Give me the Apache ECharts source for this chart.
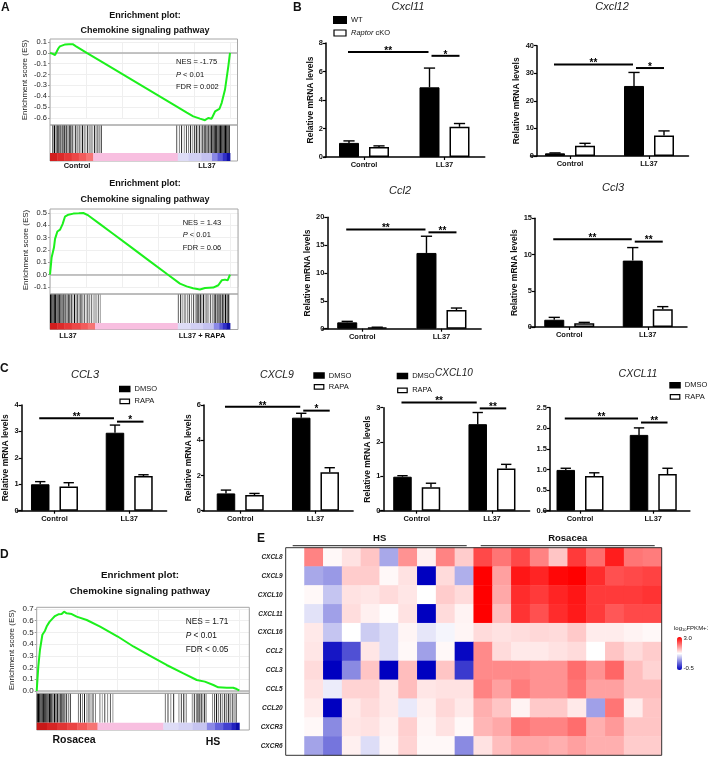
<!DOCTYPE html>
<html><head><meta charset="utf-8">
<script src="https://cdn.jsdelivr.net/npm/echarts@6/dist/echarts.min.js"></script>
<style>html,body{margin:0;padding:0;background:#fff}#c{width:708px;height:758px}</style>
</head><body><div id="c"></div>
<script>
// ================= DATA =================
// GSEA running enrichment score: [rank position (%), ES]
const esCurveA1 = [[0,0],[1.5,-0.01],[2.8,-0.02],[3.7,0.01],[4.6,0.04],[5.5,0.06],[6.5,0.075],[8.5,0.078],[10.5,0.08],[12.6,0.08],[14.5,0.06],[17,0.035],[20.4,0.0],[30,-0.095],[40,-0.194],[50,-0.292],[60,-0.391],[70,-0.49],[76,-0.55],[79.6,-0.585],[83.3,-0.606],[86.1,-0.62],[87.9,-0.6],[89.8,-0.606],[91.7,-0.54],[94.1,-0.517],[95.4,-0.46],[97.2,-0.34],[99.1,-0.12],[100,0]];
const esCurveA2 = [[0,0],[0.9,0.14],[2.2,0.22],[2.8,0.29],[4.1,0.35],[5.6,0.365],[7.0,0.41],[8.3,0.47],[10.2,0.486],[13,0.495],[16,0.497],[18.5,0.5],[21.3,0.48],[27.8,0.41],[35,0.332],[45,0.223],[55,0.114],[65,0.005],[72.2,-0.073],[75.9,-0.095],[79.5,-0.11],[83.3,-0.12],[86.1,-0.108],[90.7,-0.105],[93.5,-0.086],[95.4,-0.046],[97.2,-0.04],[98.7,-0.046],[100,0]];
const esCurveD = [[0,0],[0.8,0.21],[1.6,0.35],[2.8,0.48],[4.1,0.515],[4.9,0.55],[6.3,0.59],[7.9,0.62],[9.0,0.64],[10.7,0.655],[12.3,0.657],[13.5,0.677],[14.8,0.663],[17.3,0.657],[19.7,0.635],[24.7,0.606],[31.3,0.55],[40,0.465],[47.7,0.38],[56,0.3],[64.1,0.222],[72.4,0.15],[79,0.094],[83,0.08],[87.2,0.051],[89.6,0.031],[93.8,0.028],[97,0.028],[98.7,0.017],[100,0.005]];
// gene set hits: [rank position (%), grey shade 0=black]
const hitsA1 = [[1.6,0.1],[2.5,0],[3.3,0.5],[4.0,0],[4.8,0.3],[5.6,0],[6.5,0.6],[7.2,0],[8.1,0.2],[9.0,0],[9.9,0.55],[10.7,0.1],[11.6,0],[12.5,0.45],[13.3,0.7],[14.3,0.05],[15.2,0.6],[16.2,0.3],[17.1,0.7],[18.0,0],[19.0,0.5],[19.9,0.65],[20.9,0.2],[21.8,0.6],[22.8,0.4],[23.7,0.7],[24.7,0.15],[25.6,0.55],[26.6,0.3],[27.6,0.6],[28.5,0.2],[70.4,0.35],[71.9,0.55],[73.1,0.15],[74.6,0.6],[75.8,0.3],[77.0,0.5],[78.1,0.1],[79.3,0.6],[80.3,0.3],[81.3,0.05],[82.2,0.55],[83.1,0.2],[84.0,0.6],[84.9,0.1],[85.8,0.4],[86.6,0],[87.4,0.5],[88.2,0.1],[89.0,0.3],[89.8,0],[90.5,0.2],[91.2,0],[91.9,0.1],[92.6,0],[93.3,0.15],[94.0,0],[94.7,0],[95.4,0.05],[96.1,0],[96.8,0],[97.5,0],[98.2,0],[98.9,0],[99.6,0]];
const hitsA2 = [[0.3,0],[1.0,0],[1.7,0.1],[2.4,0],[3.1,0],[3.8,0.3],[4.5,0],[5.3,0.2],[6.1,0],[6.9,0.5],[7.7,0],[8.5,0.3],[9.3,0.6],[10.1,0],[10.9,0.4],[11.8,0.1],[12.7,0.6],[13.6,0],[14.5,0.5],[15.4,0.2],[16.3,0.65],[17.2,0],[18.2,0.6],[19.1,0.35],[20.1,0.7],[21.0,0.3],[22.0,0.6],[23.0,0.45],[24.0,0.7],[25.0,0.5],[26.0,0.65],[27.0,0.45],[28.0,0.7],[71.3,0.4],[72.6,0.1],[73.8,0.6],[75.0,0.3],[76.3,0.55],[77.4,0.2],[78.6,0.6],[79.7,0.35],[80.7,0.65],[81.7,0],[82.6,0.3],[83.5,0],[84.4,0.5],[85.3,0.1],[86.2,0.6],[87.2,0.3],[88.2,0.65],[89.2,0.4],[90.2,0.6],[91.2,0.2],[92.1,0],[93.0,0.4],[93.9,0],[94.8,0.3],[95.7,0],[96.6,0.2],[97.5,0],[98.4,0.1],[99.3,0]];
const hitsD = [[0.3,0],[0.9,0],[1.5,0],[2.1,0.1],[2.7,0],[3.3,0],[3.9,0.2],[4.5,0],[5.1,0],[5.7,0.3],[6.3,0],[6.9,0.1],[7.5,0],[8.1,0.4],[8.8,0],[9.5,0.2],[10.2,0],[10.9,0.5],[11.6,0],[12.3,0.3],[13.0,0],[13.8,0.45],[14.6,0.1],[15.6,0.5],[16.6,0.2],[20.6,0.5],[21.6,0.2],[22.6,0.6],[23.6,0.1],[24.8,0.5],[25.8,0.3],[26.8,0.6],[27.8,0.2],[29.0,0.55],[31.2,0.5],[32.4,0.7],[33.6,0.3],[35.0,0.6],[36.4,0.4],[37.6,0.65],[63.5,0.5],[64.8,0.3],[66.2,0.6],[67.6,0.2],[70.2,0.6],[71.4,0.3],[72.6,0.1],[73.8,0.5],[76.8,0.6],[77.8,0.2],[78.8,0.5],[79.6,0],[80.4,0.4],[81.2,0.1],[82.0,0.6],[82.8,0.2],[83.6,0.5],[86.8,0.6],[87.8,0.3],[88.8,0],[89.8,0.5],[90.8,0.2],[91.8,0.6],[92.8,0.1],[93.8,0.4],[94.8,0],[95.8,0.5],[96.8,0.2],[97.8,0.6],[98.5,0.3]];
// ranked-list colour bar: [from %, to %, colour]
const rankA1 = [[0,4,'#d21e1e'],[4,8,'#dc2a2a'],[8,12,'#e53838'],[12,16,'#ec4848'],[16,20,'#f25c5c'],[20,24,'#f67474'],[24,71,'#f8bfe0'],[71,77,'#dedcf6'],[77,84,'#d2d0f4'],[84,90,'#c4c2f0'],[90,93,'#8a88e6'],[93,96,'#5c5ad8'],[96,98,'#3230c8'],[98,100,'#1010a8']];
const rankA2 = [[0,4,'#d21e1e'],[4,8,'#dc2a2a'],[8,12,'#e53838'],[12,17,'#ec4848'],[17,21,'#f25c5c'],[21,25,'#f67474'],[25,71,'#f8bfe0'],[71,78,'#dedcf6'],[78,85,'#d2d0f4'],[85,91,'#c4c2f0'],[91,94,'#8a88e6'],[94,96,'#5c5ad8'],[96,98,'#3230c8'],[98,100,'#1010a8']];
const rankD = [[0,5,'#c81818'],[5,10,'#d62424'],[10,15,'#e03434'],[15,20,'#ea4444'],[20,25,'#f25a5a'],[25,30,'#f67474'],[30,62.5,'#f8bfe0'],[62.5,70,'#dedcf6'],[70,77,'#d4d2f4'],[77,84,'#c6c4f0'],[84,88,'#8a88e6'],[88,92,'#6462dc'],[92,96,'#4240d0'],[96,98,'#2220c0'],[98,100,'#0c0ca8']];
const gseaStatsA1 = ['NES = -1.75', 'P < 0.01', 'FDR = 0.002'];
const gseaStatsA2 = ['NES = 1.43', 'P < 0.01', 'FDR = 0.06'];
const gseaStatsD = ['NES = 1.71', 'P < 0.01', 'FDR < 0.05'];
const gseaEndsA1 = ['Control', 'LL37'];
const gseaEndsA2 = ['LL37', 'LL37 + RAPA'];
const gseaEndsD = ['Rosacea', 'HS'];

// qPCR bar charts (mean, SEM); sig = [fromBar, toBar, height, label], bars 0..3
const groups = ['Control', 'LL37'];
const cxcl11WT = [0.99, 4.89], cxcl11WTErr = [0.14, 1.35], cxcl11KO = [0.71, 2.12], cxcl11KOErr = [0.07, 0.23];
const cxcl11Sig = [[0, 2, 7.36, '**'], [2, 3, 7.1, '*']];
const cxcl12WT = [0.97, 25.4], cxcl12WTErr = [0.15, 4.9], cxcl12KO = [3.75, 7.4], cxcl12KOErr = [0.85, 1.7];
const cxcl12Sig = [[0, 2, 33.2, '**'], [2, 3, 31.9, '*']];
const ccl2WT = [1.14, 13.6], ccl2WTErr = [0.18, 3.0], ccl2KO = [0.24, 3.35], ccl2KOErr = [0.03, 0.36];
const ccl2Sig = [[0, 2, 17.8, '**'], [2, 3, 17.3, '**']];
const ccl3mWT = [1.0, 9.16], ccl3mWTErr = [0.33, 1.8], ccl3mKO = [0.51, 2.44], ccl3mKOErr = [0.13, 0.37];
const ccl3mSig = [[0, 2, 12.1, '**'], [2, 3, 11.78, '**']];
const CCL3dmso = [1.0, 2.95], CCL3dmsoErr = [0.1, 0.29], CCL3rapa = [0.92, 1.31], CCL3rapaErr = [0.14, 0.05];
const CCL3Sig = [[0, 2, 3.5, '**'], [2, 3, 3.37, '*']];
const CXCL9dmso = [0.98, 5.28], CXCL9dmsoErr = [0.19, 0.25], CXCL9rapa = [0.89, 2.18], CXCL9rapaErr = [0.09, 0.26];
const CXCL9Sig = [[0, 2, 5.9, '**'], [2, 3, 5.68, '*']];
const CXCL10dmso = [0.99, 2.52], CXCL10dmsoErr = [0.03, 0.34], CXCL10rapa = [0.68, 1.23], CXCL10rapaErr = [0.12, 0.12];
const CXCL10Sig = [[0, 2, 3.15, '**'], [2, 3, 2.98, '**']];
const CXCL11dmso = [0.99, 1.84], CXCL11dmsoErr = [0.04, 0.17], CXCL11rapa = [0.84, 0.89], CXCL11rapaErr = [0.08, 0.14];
const CXCL11Sig = [[0, 2, 2.24, '**'], [2, 3, 2.14, '**']];

// heatmap (log10 FPKM+1); column 0 empty
const hmSamples = ['HS1','HS2','HS3','HS4','HS5','HS6','HS7','HS8','HS9','HS10','R1','R2','R3','R4','R5','R6','R7','R8','R9','R10'];
const hmGenes = ['CXCL8','CXCL9','CXCL10','CXCL11','CXCL16','CCL2','CCL3','CCL5','CCL20','CXCR3','CXCR6'];
const hmCXCL8  = [null,2.1,1.3,1.45,1.65,0.65,2.0,1.35,2.1,1.6, 2.5,2.2,2.5,2.1,1.65,2.6,2.25,2.8,2.2,2.15];
const hmCXCL9  = [null,0.65,0.55,1.6,1.6,1.3,1.45,-0.5,1.5,0.7, 3.0,1.9,2.85,2.75,2.95,3.0,2.7,2.45,2.5,2.55];
const hmCXCL10 = [null,1.3,0.85,1.45,1.42,1.5,1.42,1.25,1.6,1.5, 3.0,1.85,2.7,2.6,2.75,2.85,2.6,2.6,2.6,2.65];
const hmCXCL11 = [null,1.05,0.6,1.48,1.35,1.27,1.45,-0.5,1.5,1.33, 3.0,1.7,2.65,2.45,2.7,2.82,2.6,2.4,2.5,2.5];
const hmCXCL16 = [null,1.4,0.85,1.25,0.9,1.02,1.32,1.08,1.18,1.32, 1.5,1.45,1.48,1.52,1.5,1.62,1.38,1.38,1.33,1.3];
const hmCCL2   = [null,1.42,-0.35,0.05,1.42,1.02,1.3,0.6,1.3,-0.45, 2.05,1.5,1.4,1.4,1.45,1.5,1.25,1.65,1.5,1.6];
const hmCCL3   = [null,1.5,-0.5,0.45,1.65,-0.5,1.7,-0.5,1.65,-0.1, 2.05,2.05,2.05,2.0,2.0,2.25,2.0,2.3,1.7,1.55];
const hmCCL5   = [null,1.45,1.12,1.55,1.55,1.4,1.7,1.42,1.45,1.45, 2.1,1.9,2.15,2.0,2.0,2.2,1.9,1.9,1.7,1.7];
const hmCCL20  = [null,1.38,-0.5,1.4,1.5,1.4,1.1,1.35,1.52,1.4, 1.8,1.65,1.33,1.62,1.62,1.4,0.6,2.2,1.38,1.65];
const hmCXCR3  = [null,1.3,0.45,1.42,1.45,1.35,1.58,1.32,1.45,1.3, 1.75,1.85,2.2,2.1,2.1,2.25,1.8,1.95,1.65,1.65];
const hmCXCR6  = [null,0.62,0.3,1.35,1.02,1.32,1.55,1.3,1.3,0.45, 1.45,1.7,1.85,1.85,1.8,1.9,1.8,1.8,1.6,1.6];
const hmRows = [hmCXCL8,hmCXCL9,hmCXCL10,hmCXCL11,hmCXCL16,hmCCL2,hmCCL3,hmCCL5,hmCCL20,hmCXCR3,hmCXCR6];
const hmGroups = [['HS', 0, 9], ['Rosacea', 10, 19]];
const hmScale = ['3.0', '-0.5'];

// ================= BUILD =================
const FONT = '"Liberation Sans", Arial, Helvetica, sans-serif';
const grid = [], xAxis = [], yAxis = [], series = [], legend = [], graphic = [];
function addGrid(g, xa, ya) {
  grid.push(g); const i = grid.length - 1;
  xa.gridIndex = i; ya.gridIndex = i; xAxis.push(xa); yAxis.push(ya); return i;
}
function txt(x, y, text, size, o) {
  o = o || {};
  const al = o.align || 'center';
  const st = { text: text, font: (o.italic ? 'italic ' : 'normal ') + (o.bold ? 'bold ' : 'normal ') + size + 'px ' + FONT,
    fill: o.color || '#111', align: al, verticalAlign: 'middle', textAlign: al, textVerticalAlign: 'middle' };
  if (o.rich) st.rich = o.rich;
  graphic.push({ type: 'text', x: x, y: y, silent: true, z: 100, style: st });
}
function richP(size) {
  return { i: { font: 'italic normal ' + size + 'px ' + FONT, fill: '#111' } };
}

function gsea(o) {
  const frameW = o.right - o.left;
  const xMax = 100 * frameW / (o.curveRight - o.left);
  addGrid({ left: o.left, top: o.top, width: frameW, height: o.esBottom - o.top, show: true, borderColor: '#a6a6a6', borderWidth: 1, z: 4 },
    { type: 'value', show: false, min: 0, max: 1 }, { type: 'value', show: false, min: 0, max: 1 });
  const gi = addGrid({ left: o.left, top: o.yTopPx, width: frameW, height: o.yBotPx - o.yTopPx },
    { type: 'value', min: 0, max: xMax, interval: 20, axisLine: { show: false }, axisTick: { show: false }, axisLabel: { show: false },
      splitLine: { show: true, lineStyle: { color: '#efefef', width: 1 } } },
    { type: 'value', min: o.yMin, max: o.yMax, interval: 0.1, axisLine: { show: false },
      axisTick: { show: true, length: 2, lineStyle: { color: '#999' } },
      axisLabel: { fontFamily: FONT, fontSize: o.tickSize, color: '#222', margin: 3, formatter: v => v.toFixed(1) },
      splitLine: { show: true, lineStyle: { color: '#efefef', width: 1 } },
      name: 'Enrichment score (ES)', nameLocation: 'middle', nameGap: o.nameGap,
      nameTextStyle: { fontFamily: FONT, fontSize: 8, color: '#222' } });
  series.push({ type: 'line', xAxisIndex: gi, yAxisIndex: gi, data: o.curve, symbol: 'none', showSymbol: false, clip: false, z: 5,
    lineStyle: { color: '#1cf01c', width: 2 },
    markLine: { silent: true, symbol: ['none', 'none'], label: { show: false }, animation: false,
      lineStyle: { color: '#b0b0b0', width: 1.5, type: 'solid' }, data: [{ yAxis: 0 }] } });
  const hi = addGrid({ left: o.left, top: o.esBottom, width: frameW, height: o.cbBottom - o.esBottom, show: true, borderColor: '#a6a6a6', borderWidth: 1 },
    { type: 'value', show: false, min: 0, max: xMax }, { type: 'value', show: false, min: 0, max: 1 });
  const cbFrac = (o.cbBottom - o.cbTop) / (o.cbBottom - o.esBottom);
  series.push({ type: 'custom', xAxisIndex: hi, yAxisIndex: hi, data: o.hits, silent: true, z: 3,
    renderItem: (p, api) => {
      const x = api.value(0), s = api.value(1);
      const a = api.coord([x, cbFrac]), b = api.coord([x, 1]);
      const g = Math.round(s * 235);
      return { type: 'line', shape: { x1: a[0], y1: a[1], x2: a[0], y2: b[1] }, style: { stroke: 'rgb(' + g + ',' + g + ',' + g + ')', lineWidth: 1 } };
    } });
  series.push({ type: 'custom', xAxisIndex: hi, yAxisIndex: hi, data: o.rank.map(r => [r[0], r[1]]), silent: true, z: 3,
    renderItem: (p, api) => {
      const a = api.coord([api.value(0), 0]), b = api.coord([api.value(1), cbFrac]);
      return { type: 'rect', shape: { x: a[0], y: b[1], width: b[0] - a[0] + 0.4, height: a[1] - b[1] }, style: { fill: o.rank[p.dataIndex][2] } };
    } });
}

function barPanel(o) {
  const gi = addGrid({ left: o.left, top: o.top, width: o.width, height: o.bottom - o.top },
    { type: 'category', data: groups, axisLine: { lineStyle: { color: '#000', width: 1.5 } },
      axisTick: { show: true, alignWithLabel: true, length: 3, lineStyle: { color: '#000', width: 1.2 } },
      axisLabel: { fontFamily: FONT, fontWeight: 'bold', fontSize: 7.5, color: '#111', margin: 4, interval: 0 } },
    { type: 'value', min: 0, max: o.max, interval: o.interval, offset: o.left - o.axisX,
      axisLine: { show: true, lineStyle: { color: '#000', width: 1.5 } },
      axisTick: { show: true, length: 3, lineStyle: { color: '#000', width: 1.2 } },
      axisLabel: { fontFamily: FONT, fontWeight: 'bold', fontSize: 7.5, color: '#111', margin: 3, formatter: v => v.toFixed(o.dec || 0) },
      splitLine: { show: false },
      name: o.yName || '', nameLocation: 'middle', nameGap: o.nameGap || 10,
      nameTextStyle: { fontFamily: FONT, fontWeight: 'bold', fontSize: 8.5, color: '#111' } });
  const half = o.barW * (1 + o.gap) / 2;
  series.push({ type: 'bar', name: o.names[0], xAxisIndex: gi, yAxisIndex: gi, data: o.v0, barWidth: o.barW, barGap: (o.gap * 100) + '%',
    itemStyle: { color: '#000', borderColor: '#000', borderWidth: 1 }, z: 2 });
  series.push({ type: 'bar', name: o.names[1], xAxisIndex: gi, yAxisIndex: gi, data: o.v1, barWidth: o.barW, barGap: (o.gap * 100) + '%',
    itemStyle: { color: '#fff', borderColor: '#000', borderWidth: 1.5 }, z: 2 });
  const err = [];
  [o.v0, o.v1].forEach((v, s) => v.forEach((m, c) => err.push([c, m, [o.e0, o.e1][s][c], s])));
  series.push({ type: 'custom', xAxisIndex: gi, yAxisIndex: gi, data: err, silent: true, z: 3,
    renderItem: (p, api) => {
      const c = api.value(0), m = api.value(1), e = api.value(2), s = api.value(3);
      const p0 = api.coord([c, m]), p1 = api.coord([c, m + e]);
      const x = p0[0] + (s ? 1 : -1) * half, cw = o.barW * 0.28;
      return { type: 'group', children: [
        { type: 'line', shape: { x1: x, y1: p0[1], x2: x, y2: p1[1] }, style: { stroke: '#000', lineWidth: 1.4 } },
        { type: 'line', shape: { x1: x - cw, y1: p1[1], x2: x + cw, y2: p1[1] }, style: { stroke: '#000', lineWidth: 1.4 } }] };
    } });
  series.push({ type: 'custom', xAxisIndex: gi, yAxisIndex: gi, data: o.sig.map(s => [s[0] >> 1, s[2]]), silent: true, z: 3,
    renderItem: (p, api) => {
      const s = o.sig[p.dataIndex];
      const bx = b => api.coord([b >> 1, 0])[0] + ((b & 1) ? 1 : -1) * half;
      const y = api.coord([0, s[2]])[1];
      const x1 = bx(s[0]) + (p.dataIndex ? 2 : -1), x2 = bx(s[1]) + (p.dataIndex ? 0 : -1);
      return { type: 'group', children: [
        { type: 'line', shape: { x1: x1, y1: y, x2: x2, y2: y }, style: { stroke: '#000', lineWidth: 2 } },
        { type: 'text', x: (x1 + x2) / 2, y: y - 1, style: { text: s[3], font: 'bold 10px ' + FONT, fill: '#000',
          align: 'center', verticalAlign: 'middle', textAlign: 'center', textVerticalAlign: 'middle' } }] };
    } });
}

// ----- Panel A -----
gsea({ left: 50, right: 237.5, curveRight: 230, top: 39, esBottom: 125, cbTop: 153, cbBottom: 161,
  yTopPx: 42, yBotPx: 118, yMax: 0.1, yMin: -0.6, tickSize: 7.5, nameGap: 21,
  curve: esCurveA1, hits: hitsA1, rank: rankA1 });
gsea({ left: 50, right: 238, curveRight: 230, top: 209, esBottom: 294, cbTop: 323, cbBottom: 329.5,
  yTopPx: 213, yBotPx: 287, yMax: 0.5, yMin: -0.1, tickSize: 7.5, nameGap: 17,
  curve: esCurveA2, hits: hitsA2, rank: rankA2 });
// ----- Panel D -----
gsea({ left: 36.7, right: 249.3, curveRight: 239.3, top: 607.3, esBottom: 693.3, cbTop: 722.7, cbBottom: 730,
  yTopPx: 609, yBotPx: 691, yMax: 0.7, yMin: 0, tickSize: 8, nameGap: 21,
  curve: esCurveD, hits: hitsD, rank: rankD });

// ----- Panel B -----
const RM = 'Relative mRNA levels';
const bNames = ['WT', 'Raptor cKO'], cNames = ['DMSO', 'RAPA'];
barPanel({ left: 323.75, width: 161, top: 43, bottom: 157, axisX: 326, max: 8, interval: 2, barW: 20, gap: 0.5,
  yName: RM, nameGap: 9, names: bNames, v0: cxcl11WT, e0: cxcl11WTErr, v1: cxcl11KO, e1: cxcl11KOErr, sig: cxcl11Sig });
barPanel({ left: 530.5, width: 158, top: 45.7, bottom: 156, axisX: 537, max: 40, interval: 10, barW: 20, gap: 0.5,
  yName: RM, nameGap: 16, names: bNames, v0: cxcl12WT, e0: cxcl12WTErr, v1: cxcl12KO, e1: cxcl12KOErr, sig: cxcl12Sig });
barPanel({ left: 322.6, width: 158.5, top: 217.3, bottom: 328.7, axisX: 327.3, max: 20, interval: 5, barW: 20, gap: 0.5,
  yName: RM, nameGap: 15, names: bNames, v0: ccl2WT, e0: ccl2WTErr, v1: ccl2KO, e1: ccl2KOErr, sig: ccl2Sig });
barPanel({ left: 530, width: 157, top: 218.3, bottom: 327, axisX: 535, max: 15, interval: 5, barW: 20, gap: 0.5,
  yName: RM, nameGap: 15.5, names: bNames, v0: ccl3mWT, e0: ccl3mWTErr, v1: ccl3mKO, e1: ccl3mKOErr, sig: ccl3mSig });
// ----- Panel C -----
barPanel({ left: 17.1, width: 149.5, top: 405, bottom: 510.7, axisX: 21.7, max: 4, interval: 1, barW: 18.5, gap: 0.54,
  yName: RM, nameGap: 10.5, names: cNames, v0: CCL3dmso, e0: CCL3dmsoErr, v1: CCL3rapa, e1: CCL3rapaErr, sig: CCL3Sig });
barPanel({ left: 202.6, width: 150.5, top: 405, bottom: 510.7, axisX: 204, max: 6, interval: 2, barW: 18.5, gap: 0.54,
  yName: RM, nameGap: 8, names: cNames, v0: CXCL9dmso, e0: CXCL9dmsoErr, v1: CXCL9rapa, e1: CXCL9rapaErr, sig: CXCL9Sig });
barPanel({ left: 379.1, width: 150.5, top: 407.7, bottom: 510.7, axisX: 383.3, max: 3, interval: 1, barW: 18.5, gap: 0.54,
  yName: RM, nameGap: 5, names: cNames, v0: CXCL10dmso, e0: CXCL10dmsoErr, v1: CXCL10rapa, e1: CXCL10rapaErr, sig: CXCL10Sig });
barPanel({ left: 543.4, width: 146.5, top: 407.7, bottom: 510.7, axisX: 550, max: 2.5, interval: 0.5, dec: 1, barW: 18.5, gap: 0.54,
  yName: '', names: cNames, v0: CXCL11dmso, e0: CXCL11dmsoErr, v1: CXCL11rapa, e1: CXCL11rapaErr, sig: CXCL11Sig });

// legends
legend.push({ left: 333, top: 16, orient: 'vertical', itemWidth: 12, itemHeight: 6, itemGap: 5, padding: 0, icon: 'rect', selectedMode: false,
  textStyle: { fontFamily: FONT, fontSize: 7.5, color: '#111', rich: { i: { fontFamily: FONT, fontSize: 7.5, fontStyle: 'italic', color: '#111' } } },
  formatter: n => n === 'Raptor cKO' ? '{i|Raptor} cKO' : n,
  data: [{ name: 'WT', itemStyle: { color: '#000' } }, { name: 'Raptor cKO', itemStyle: { color: '#fff', borderColor: '#000', borderWidth: 1.2 } }] });
[[119, 385, 4.3], [313.3, 371.5, 3.4], [396.7, 372, 6.3], [669.3, 381.3, 3.5]].forEach(p => {
  legend.push({ left: p[0], top: p[1], orient: 'vertical', itemWidth: 9.5, itemHeight: 4.5, itemGap: p[2], padding: 0, icon: 'rect', selectedMode: false,
    textStyle: { fontFamily: FONT, fontSize: 7.5, color: '#111' },
    data: [{ name: 'DMSO', itemStyle: { color: '#000' } }, { name: 'RAPA', itemStyle: { color: '#fff', borderColor: '#000', borderWidth: 1.2 } }] });
});

// ----- Panel E heatmap -----
const hmG = addGrid({ left: 285.7, top: 547.7, width: 376, height: 207.6 },
  { type: 'category', data: hmSamples, show: false },
  { type: 'category', data: hmGenes, inverse: true, axisLine: { show: false }, axisTick: { show: false },
    axisLabel: { fontFamily: FONT, fontWeight: 'bold', fontStyle: 'italic', fontSize: 6.5, color: '#222', margin: 3 } });
const hmData = [];
hmRows.forEach((row, r) => row.forEach((v, c) => { if (v !== null) hmData.push([c, r, v]); }));
const hmSeriesIndex = series.length;
series.push({ type: 'heatmap', xAxisIndex: hmG, yAxisIndex: hmG, data: hmData, itemStyle: { borderWidth: 0 }, emphasis: { disabled: true }, progressive: 0, silent: true });
series.push({ type: 'custom', xAxisIndex: hmG, yAxisIndex: hmG, data: hmGroups.map(g => [g[1], 0]), silent: true, z: 5,
  renderItem: (p, api) => {
    const g = hmGroups[p.dataIndex];
    const a = api.coord([g[1], 0]), b = api.coord([g[2], 0]);
    const bw = api.size([1, 0])[0], bh = api.size([0, 1])[1];
    const x1 = a[0] - bw / 2 + 7, x2 = b[0] + bw / 2 - 7, y = a[1] - bh / 2 - 2;
    return { type: 'group', children: [
      { type: 'line', shape: { x1: x1, y1: y, x2: x2, y2: y }, style: { stroke: '#222', lineWidth: 1 } },
      { type: 'text', x: (x1 + x2) / 2, y: y - 7, style: { text: g[0], font: 'bold 9.5px ' + FONT, fill: '#111',
        align: 'center', verticalAlign: 'middle', textAlign: 'center', textVerticalAlign: 'middle' } }] };
  } });
addGrid({ left: 285.7, top: 547.7, width: 376, height: 207.6, show: true, borderColor: '#333', borderWidth: 1, z: 10 },
  { type: 'value', show: false, min: 0, max: 1 }, { type: 'value', show: false, min: 0, max: 1 });

// ----- texts -----
txt(1, 8, 'A', 12, { bold: true, align: 'left' });
txt(293, 7.5, 'B', 12, { bold: true, align: 'left' });
txt(0, 369, 'C', 12, { bold: true, align: 'left' });
txt(0, 555, 'D', 12, { bold: true, align: 'left' });
txt(257, 538.5, 'E', 12, { bold: true, align: 'left' });

txt(145, 16, 'Enrichment plot:', 9, { bold: true });
txt(145, 31, 'Chemokine signaling pathway', 9, { bold: true });
txt(145, 184, 'Enrichment plot:', 9, { bold: true });
txt(145, 200, 'Chemokine signaling pathway', 9, { bold: true });
txt(140, 575, 'Enrichment plot:', 9.8, { bold: true });
txt(140, 591, 'Chemokine signaling pathway', 9.8, { bold: true });

function stats(x, ys, arr, size) {
  txt(x, ys[0], arr[0], size, { align: 'left' });
  txt(x, ys[1], arr[1].replace(/^P/, '{i|P}'), size, { align: 'left', rich: richP(size) });
  txt(x, ys[2], arr[2], size, { align: 'left' });
}
stats(176, [62, 75, 87], gseaStatsA1, 7.5);
stats(182.7, [222.7, 235, 247.7], gseaStatsA2, 7.5);
stats(185.7, [622, 636, 650], gseaStatsD, 8.3);

txt(77, 166, gseaEndsA1[0], 7.5, { bold: true });
txt(207, 166, gseaEndsA1[1], 7.5, { bold: true });
txt(68, 336, gseaEndsA2[0], 7.5, { bold: true });
txt(202, 336, gseaEndsA2[1], 7.5, { bold: true });
txt(74, 740, gseaEndsD[0], 10.5, { bold: true });
txt(213, 742, gseaEndsD[1], 10.5, { bold: true });

txt(408, 7, 'Cxcl11', 11, { italic: true, color: '#222' });
txt(612, 7, 'Cxcl12', 11, { italic: true, color: '#222' });
txt(400, 191, 'Ccl2', 11, { italic: true, color: '#222' });
txt(613, 188, 'Ccl3', 11, { italic: true, color: '#222' });
txt(85, 375, 'CCL3', 11, { italic: true, color: '#222' });
txt(277, 375, 'CXCL9', 10.5, { italic: true, color: '#222' });
txt(454, 373, 'CXCL10', 10, { italic: true, color: '#222' });
txt(638, 374, 'CXCL11', 10.5, { italic: true, color: '#222' });

txt(674, 628, 'log{s|10}FPKM+1', 6, { align: 'left', rich: { s: { font: 'normal 4px ' + FONT, fill: '#111', padding: [3, 0, 0, 0] } } });
txt(683.5, 638, hmScale[0], 6, { align: 'left' });
txt(683.5, 668, hmScale[1], 6, { align: 'left' });

const chart = echarts.init(document.getElementById('c'), null, { renderer: 'canvas', width: 708, height: 758 });
chart.setOption({
  animation: false,
  backgroundColor: '#fff',
  grid: grid, xAxis: xAxis, yAxis: yAxis, series: series, legend: legend, graphic: graphic,
  visualMap: [{ type: 'continuous', seriesIndex: hmSeriesIndex, min: -0.5, max: 3, left: 677, top: 637,
    itemWidth: 5, itemHeight: 33, calculable: false, padding: 0, hoverLink: false,
    inRange: { color: ['#0000c0', '#ffffff', '#ff0000'] } }]
});
</script></body></html>
